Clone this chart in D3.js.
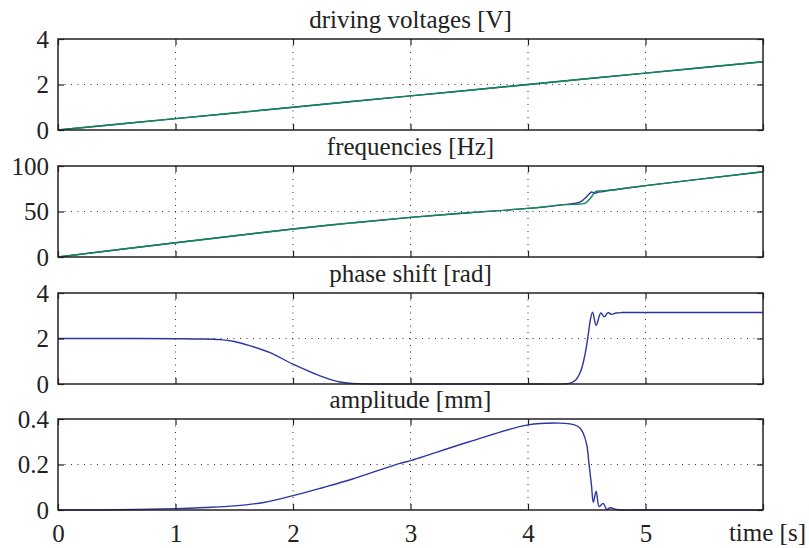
<!DOCTYPE html>
<html>
<head>
<meta charset="utf-8">
<script src="https://cdn.jsdelivr.net/npm/d3@7"></script>
</head>
<body style="margin:0">
<svg id="chart" width="809" height="548"></svg>
<script>
// time axis
var xTicks = [0, 1, 2, 3, 4, 5, 6];
var xLabels = ["0", "1", "2", "3", "4", "5", ""];

// driving voltages [V]
var voltTime = [0, 1, 2, 3, 4, 5, 6];
var voltBlue = [0, 0.5, 1, 1.5, 2, 2.5, 3];
var voltGreen = [0, 0.5, 1, 1.5, 2, 2.5, 3];
var voltTicks = [0, 2, 4];

// frequencies [Hz]
var freqTimeBlue = [0, 1, 2, 2.5, 3, 3.5, 4, 4.31, 4.44, 4.48, 4.52, 4.54, 4.57, 4.6, 4.63, 4.7, 5, 6];
var freqBlue = [0, 15.6, 30.8, 37.5, 43.6, 48.6, 53.4, 57.5, 60.4, 64, 69.2, 71.4, 70, 71.4, 71.6, 73.3, 78.4, 93.7];
var freqTimeGreen = [0, 1, 2, 2.5, 3, 3.5, 4, 4.31, 4.44, 4.49, 4.52, 4.55, 4.57, 4.6, 4.7, 5, 6];
var freqGreen = [0, 15.6, 30.8, 37.5, 43.6, 48.6, 53.4, 57.5, 58.2, 59.3, 63, 67.8, 71.4, 72.6, 73.3, 78.4, 93.7];
var freqTicks = [0, 50, 100];

// phase shift [rad]
var phaseTime = [0, 0.5, 1, 1.2, 1.38, 1.5, 1.63, 1.8, 2.0, 2.23, 2.4, 2.57, 2.8, 3, 4, 4.3, 4.36, 4.41, 4.45, 4.48, 4.51, 4.53, 4.55, 4.58, 4.62, 4.65, 4.68, 4.71, 4.75, 4.8, 5, 6];
var phase = [2.0, 2.0, 1.99, 1.98, 1.95, 1.87, 1.69, 1.39, 0.87, 0.36, 0.09, 0.01, 0, 0, 0, 0.005, 0.04, 0.2, 0.58, 1.17, 2.06, 2.8, 3.16, 2.58, 3.12, 2.95, 3.14, 3.06, 3.12, 3.14, 3.14, 3.14];
var phaseTicks = [0, 2, 4];

// amplitude [mm]
var ampTime = [0, 0.5, 1, 1.25, 1.5, 1.75, 2, 2.25, 2.5, 2.91, 3, 3.5, 4, 4.27, 4.39, 4.44, 4.47, 4.5, 4.52, 4.54, 4.556, 4.58, 4.606, 4.64, 4.67, 4.7, 4.75, 4.8, 5, 6];
var amp = [0, 0.001, 0.006, 0.011, 0.018, 0.033, 0.063, 0.098, 0.135, 0.205, 0.217, 0.30, 0.374, 0.382, 0.375, 0.362, 0.337, 0.286, 0.198, 0.11, 0.034, 0.083, 0.015, 0.029, 0.003, 0.01, 0.002, 0, 0, 0];
var ampTicks = [0, 0.2, 0.4];

var blue = "#2b35a3";
var green = "#0f8a4e";
var txtStyle = "font-family:'Liberation Serif';font-size:25px";

var svg = d3.select("#chart");
var left = 58, right = 763, panelH = 91;
var tops = [39, 166, 293, 419];

var x = d3.scaleLinear().domain([0, 6]).range([left, right]);

function zip(t, v) {
    return t.map(function (d, i) { return [d, v[i]]; });
}

var panels = [
    {title: "driving voltages [V]", ticks: voltTicks, fmt: d3.format("d"),
        series: [{d: zip(voltTime, voltBlue), c: blue}, {d: zip(voltTime, voltGreen), c: green}]},
    {title: "frequencies [Hz]", ticks: freqTicks, fmt: d3.format("d"),
        series: [{d: zip(freqTimeBlue, freqBlue), c: blue}, {d: zip(freqTimeGreen, freqGreen), c: green}]},
    {title: "phase shift [rad]", ticks: phaseTicks, fmt: d3.format("d"),
        series: [{d: zip(phaseTime, phase), c: blue}]},
    {title: "amplitude [mm]", ticks: ampTicks, fmt: function (d) { return d === 0 ? "0" : d3.format(".1f")(d); },
        series: [{d: zip(ampTime, amp), c: blue}]}
];

panels.forEach(function (p, k) {
    var top = tops[k], bottom = top + panelH;
    var y = d3.scaleLinear().domain([p.ticks[0], p.ticks[p.ticks.length - 1]]).range([bottom, top]);
    var g = svg.append("g");

    // dotted grid
    g.selectAll(".gx").data(xTicks.slice(1, -1)).enter().append("line")
        .attr("x1", function (d) { return x(d); }).attr("x2", function (d) { return x(d); })
        .attr("y1", top).attr("y2", bottom)
        .attr("stroke", "#333").attr("stroke-width", 1).attr("stroke-dasharray", "1,5.5");
    g.selectAll(".gy").data(p.ticks.slice(1, -1)).enter().append("line")
        .attr("x1", left).attr("x2", right)
        .attr("y1", function (d) { return y(d); }).attr("y2", function (d) { return y(d); })
        .attr("stroke", "#333").attr("stroke-width", 1).attr("stroke-dasharray", "1,5.5");

    // lines
    var line = d3.line()
        .x(function (d) { return x(d[0]); })
        .y(function (d) { return y(d[1]); })
        .curve(d3.curveCatmullRom.alpha(0.5));
    p.series.forEach(function (s) {
        g.append("path").datum(s.d)
            .attr("d", line)
            .attr("fill", "none")
            .attr("stroke", s.c)
            .attr("stroke-width", 1.4);
    });

    // inward ticks on all four sides
    var yl = g.append("g").attr("transform", "translate(" + left + ",0)")
        .call(d3.axisLeft(y).tickValues(p.ticks).tickSize(-6).tickPadding(9).tickFormat(p.fmt));
    var yr = g.append("g").attr("transform", "translate(" + right + ",0)")
        .call(d3.axisRight(y).tickValues(p.ticks).tickSize(-6).tickFormat(""));
    var xt = g.append("g").attr("transform", "translate(0," + top + ")")
        .call(d3.axisTop(x).tickValues(xTicks).tickSize(-6).tickFormat(""));
    var xb = g.append("g").attr("transform", "translate(0," + bottom + ")")
        .call(d3.axisBottom(x).tickValues(xTicks).tickSize(-6).tickPadding(14)
            .tickFormat(function (d, i) { return k === 3 ? xLabels[i] : ""; }));
    [yl, yr, xt, xb].forEach(function (a) {
        a.attr("font-family", "Liberation Serif").attr("font-size", 25);
        a.select(".domain").remove();
        a.selectAll("line").attr("stroke", "#222").attr("stroke-width", 1.2);
        a.selectAll("text").attr("fill", "#222").attr("style", txtStyle);
    });

    // box
    g.append("rect")
        .attr("x", left).attr("y", top)
        .attr("width", right - left).attr("height", panelH)
        .attr("fill", "none").attr("stroke", "#222").attr("stroke-width", 1.5);

    // title
    g.append("text")
        .attr("x", (left + right) / 2).attr("y", top - 11)
        .attr("text-anchor", "middle")
        .attr("fill", "#222")
        .attr("style", txtStyle)
        .text(p.title);
});

svg.append("text")
    .attr("x", 806).attr("y", 541)
    .attr("text-anchor", "end")
    .attr("fill", "#222")
    .attr("style", txtStyle)
    .text("time [s]");
</script>
</body>
</html>
